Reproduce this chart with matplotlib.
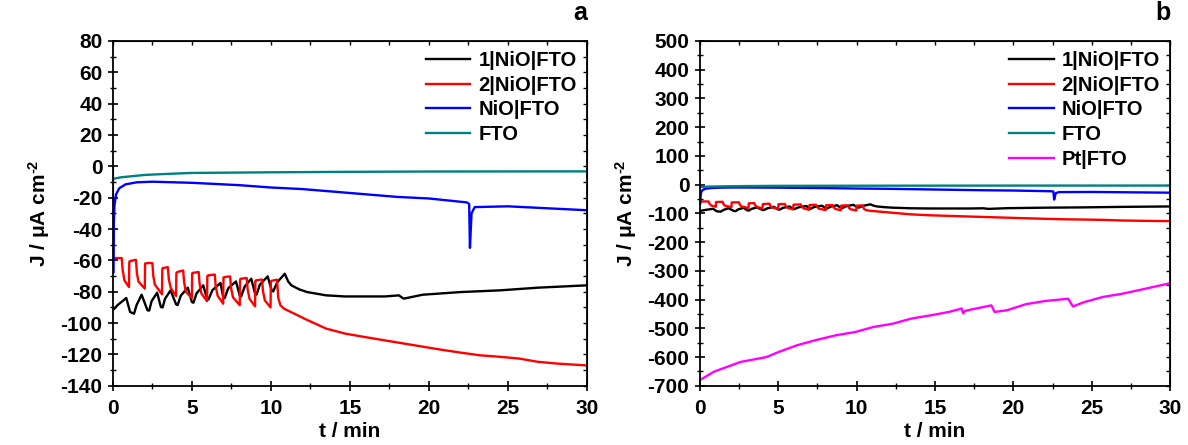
"""Two-panel chronoamperometry plot: photocurrent J vs time for NiO-based electrodes.

Panel a: dye-sensitized NiO|FTO, bare NiO|FTO and FTO.
Panel b: same curves plus Pt|FTO on a wider scale.
"""
import matplotlib
matplotlib.use("Agg")
import matplotlib.pyplot as plt
from matplotlib.ticker import MultipleLocator, NullFormatter

plt.rcParams["font.family"] = ["Liberation Sans", "DejaVu Sans"]
plt.rcParams["font.weight"] = "bold"
plt.rcParams["axes.unicode_minus"] = False
plt.rcParams["mathtext.fontset"] = "custom"
plt.rcParams["mathtext.bf"] = "Liberation Sans:bold"
plt.rcParams["mathtext.rm"] = "Liberation Sans:bold"
plt.rcParams["mathtext.default"] = "bf"

# ---- data (t in min, J in uA cm^-2) ----
t_dye1 = [0.0, 0.3, 0.85, 1.09, 1.34, 1.5, 1.82, 2.19, 2.3, 2.45, 2.8, 3.04, 3.15,
          3.3, 3.65, 4.0, 4.1, 4.3, 4.74, 5.0, 5.1, 5.3, 5.72, 5.96, 6.05, 6.3,
          6.81, 6.98, 7.08, 7.3, 7.79, 8.03, 8.12, 8.35, 8.76, 9.0, 9.1, 9.3, 9.8,
          10.05, 10.15, 10.4, 10.88, 11.1, 11.3, 11.8, 12.3, 13.5, 14.7, 17.2, 18.1,
          18.4, 18.6, 19.6, 22.0, 24.5, 26.9, 30.0]
j_dye1 = [-91.8, -88.5, -84.0, -92.9, -94.0, -88.5, -81.9, -91.8, -92.0, -86.0, -80.6,
          -89.7, -90.0, -84.5, -79.1, -88.0, -88.5, -82.5, -77.4, -86.5, -87.0, -81.0,
          -75.9, -84.4, -85.0, -79.0, -74.4, -83.3, -84.0, -77.8, -73.4, -82.3, -83.0,
          -76.5, -71.7, -81.2, -81.8, -75.5, -70.2, -79.1, -79.8, -74.0, -68.5, -73.5,
          -75.9, -78.5, -80.2, -82.3, -83.0, -83.0, -82.3, -84.4, -84.0, -81.9, -80.2,
          -79.1, -77.4, -75.9]

t_dye2 = [0.0, 0.56, 0.62, 0.73, 1.02, 1.04, 1.09, 1.46, 1.52, 1.62, 2.02, 2.04, 2.19,
          2.5, 2.56, 2.66, 3.11, 3.13, 3.16, 3.48, 3.54, 3.66, 4.0, 4.02, 4.09, 4.45,
          4.51, 4.62, 5.0, 5.02, 5.04, 5.43, 5.49, 5.6, 5.96, 5.98, 6.01, 6.45, 6.51,
          6.63, 6.98, 7.0, 7.06, 7.42, 7.48, 7.6, 8.03, 8.05, 8.1, 8.47, 8.53, 8.65,
          9.0, 9.02, 9.08, 9.44, 9.5, 9.62, 9.98, 10.0, 10.05, 10.39, 10.47, 10.6,
          10.83, 12.3, 13.5, 14.7, 15.9, 17.2, 18.4, 19.6, 20.8, 22.0, 23.2, 24.5,
          25.7, 26.9, 28.1, 30.0]
j_dye2 = [-58.5, -58.5, -66.0, -72.7, -77.0, -61.0, -60.4, -59.6, -68.0, -73.5, -78.0,
          -62.0, -61.7, -61.7, -70.0, -75.5, -81.6, -65.5, -64.9, -64.3, -72.0, -77.5,
          -82.7, -68.0, -67.4, -66.4, -74.0, -80.0, -84.0, -68.5, -68.0, -67.4, -75.0,
          -81.0, -86.0, -70.0, -69.6, -69.0, -76.5, -82.5, -87.6, -71.0, -70.6, -70.2,
          -77.5, -83.5, -88.6, -72.2, -71.7, -71.2, -78.5, -84.5, -89.3, -73.0, -72.7,
          -72.2, -79.5, -85.5, -90.0, -73.5, -73.0, -72.3, -84.0, -88.5, -90.8, -98.0,
          -103.5, -106.7, -108.8, -111.0, -113.0, -115.0, -117.0, -118.8, -120.5,
          -121.5, -122.6, -124.7, -125.8, -127.0]

t_nio = [0.0, 0.02, 0.05, 0.1, 0.2, 0.4, 0.8, 1.5, 2.5, 5.0, 8.0, 10.0, 12.0, 15.0,
         18.0, 20.0, 22.4, 22.55, 22.6, 22.7, 22.9, 25.0, 27.0, 30.0]
j_nio = [0.0, -68.0, -40.0, -25.0, -18.0, -14.0, -11.5, -10.2, -9.8, -10.5, -12.0,
         -13.5, -14.5, -17.0, -19.5, -20.5, -23.0, -24.0, -52.0, -30.0, -26.0, -25.5,
         -26.5, -28.0]

t_fto = [0.0, 0.5, 1.0, 2.0, 3.0, 5.0, 10.0, 15.0, 20.0, 30.0]
j_fto = [-8.0, -7.0, -6.5, -5.5, -5.0, -4.2, -3.8, -3.5, -3.3, -3.2]

t_pt = [0.0, 0.2, 0.9, 2.6, 4.25, 5.0, 6.2, 7.4, 8.7, 9.9, 11.1, 12.3, 13.5, 14.7,
        15.9, 16.7, 16.8, 16.9, 17.1, 18.6, 18.8, 19.6, 20.8, 22.0, 23.5, 23.8, 24.5,
        25.7, 26.9, 28.1, 30.0]
j_pt = [-680, -674, -651, -617, -600, -583, -559, -541, -524, -513, -495, -484, -466,
        -455, -443, -431, -448, -440, -437, -420, -443, -437, -416, -405, -397, -424,
        -409, -391, -380, -366, -343]

series = [
    ("1|NiO|FTO", t_dye1, j_dye1, "black"),
    ("2|NiO|FTO", t_dye2, j_dye2, "#ff0000"),
    ("NiO|FTO", t_nio, j_nio, "#0000ff"),
    ("FTO", t_fto, j_fto, "#008080"),
]


def style_axes(ax, ylim, ymajor, yminor, tag):
    ax.set_xlim(0, 30)
    ax.set_ylim(*ylim)
    ax.xaxis.set_major_locator(MultipleLocator(5))
    ax.xaxis.set_minor_locator(MultipleLocator(2.5))
    ax.yaxis.set_major_locator(MultipleLocator(ymajor))
    ax.yaxis.set_minor_locator(MultipleLocator(yminor))
    ax.tick_params(which="major", direction="inout", length=7, width=1.2,
                   labelsize=15)
    ax.tick_params(axis="x", which="major", pad=6)
    ax.tick_params(axis="y", which="major", pad=4)
    ax.tick_params(which="minor", direction="inout", length=4, width=1)
    for sp in ax.spines.values():
        sp.set_linewidth(1.3)

    # small inward ticks on the top and right frame
    top = ax.secondary_xaxis("top")
    top.xaxis.set_major_locator(MultipleLocator(5))
    top.xaxis.set_minor_locator(MultipleLocator(2.5))
    top.xaxis.set_major_formatter(NullFormatter())
    top.tick_params(which="both", direction="in", length=3, width=1)
    right = ax.secondary_yaxis("right")
    right.yaxis.set_major_locator(MultipleLocator(ymajor))
    right.yaxis.set_minor_locator(MultipleLocator(yminor))
    right.yaxis.set_major_formatter(NullFormatter())
    right.tick_params(which="both", direction="in", length=3, width=1)

    ax.set_xlabel("t / min", fontsize=15, fontweight="bold", labelpad=3)
    ax.set_ylabel(r"J / μA cm$^{\text{-2}}$", fontsize=15, fontweight="bold",
                  labelpad=6)
    ax.text(1.0, 1.045, tag, transform=ax.transAxes, ha="right", va="bottom",
            fontsize=18, fontweight="bold")
    ax.legend(loc="upper right", frameon=False, handlelength=2.2,
              handletextpad=0.4, labelspacing=0.28, borderaxespad=0.1,
              prop={"size": 14.5, "weight": "bold"})


fig = plt.figure(figsize=(11.88, 4.45), dpi=100)
ax_a = fig.add_axes([0.095, 0.133, 0.399, 0.775])
ax_b = fig.add_axes([0.589, 0.133, 0.396, 0.775])

for ax in (ax_a, ax_b):
    for name, t, j, c in series:
        ax.plot(t, j, color=c, lw=1.7, label=name)
ax_b.plot(t_pt, j_pt, color="#ff00ff", lw=1.7, label="Pt|FTO")

style_axes(ax_a, (-140, 80), 20, 10, "a")
style_axes(ax_b, (-700, 500), 100, 50, "b")

fig.savefig("out.png", dpi=100)
